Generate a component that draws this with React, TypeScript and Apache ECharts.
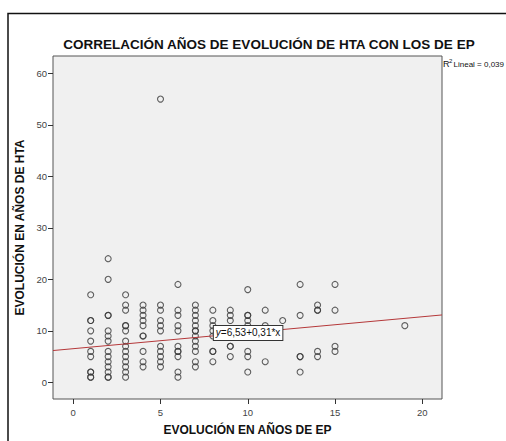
import React, { useEffect, useRef } from 'react';
import * as echarts from 'echarts';

// Años de evolución de EP (x) y de HTA (y), one pair per patient
const epYears = [
  1, 1, 1, 1, 1, 1, 1, 1, 1, 1, 1,
  2, 2, 2, 2, 2, 2, 2, 2, 2, 2, 2, 2, 2, 2,
  3, 3, 3, 3, 3, 3, 3, 3, 3, 3, 3, 3, 3, 3,
  4, 4, 4, 4, 4, 4, 4, 4, 4, 4,
  5, 5, 5, 5, 5, 5, 5, 5, 5, 5, 5,
  6, 6, 6, 6, 6, 6, 6, 6, 6, 6, 6,
  7, 7, 7, 7, 7, 7, 7, 7, 7, 7, 7, 7, 7,
  8, 8, 8, 8, 8, 8, 8, 8,
  9, 9, 9, 9, 9, 9,
  10, 10, 10, 10, 10, 10, 10, 10,
  11, 11, 11,
  12,
  13, 13, 13, 13, 13,
  14, 14, 14, 14, 14,
  15, 15, 15, 15,
  19,
];
const htaYears = [
  17, 12, 12, 10, 8, 6, 5, 2, 2, 1, 1,
  24, 20, 13, 13, 10, 9, 8, 6, 5, 4, 3, 2, 1, 1,
  17, 15, 14, 11, 11, 10, 8, 7, 6, 5, 4, 3, 2, 1,
  15, 14, 13, 12, 11, 9, 9, 6, 4, 3,
  55, 15, 14, 12, 11, 10, 7, 6, 5, 4, 3,
  19, 14, 13, 11, 10, 7, 6, 6, 5, 2, 1,
  15, 14, 13, 12, 11, 10, 10, 9, 8, 7, 6, 4, 3,
  14, 12, 11, 10, 9, 6, 6, 4,
  14, 13, 12, 7, 7, 5,
  18, 13, 13, 12, 11, 6, 5, 2,
  14, 11, 4,
  12,
  19, 13, 5, 5, 2,
  15, 14, 14, 6, 5,
  19, 14, 7, 6,
  11,
];

const xTicks = [0, 5, 10, 15, 20];
const yTicks = [0, 10, 20, 30, 40, 50, 60];
const xMin = -1.16;
const xMax = 21.13;
const yMin = -3.24;
const yMax = 63.36;

// Stated fit: y = 6,53 + 0,31*x ; R² Lineal = 0,039
const fitIntercept = 6.53;
const fitSlope = 0.31;
const fitLabelX = 8;

const titleText = 'CORRELACIÓN AÑOS DE EVOLUCIÓN DE HTA CON LOS DE EP';
const xName = 'EVOLUCIÓN EN AÑOS DE EP';
const yName = 'EVOLUCIÓN EN AÑOS DE HTA';

const FONT = '"Liberation Sans", Arial, sans-serif';

export default function App() {
  const ref = useRef<HTMLDivElement>(null);

  useEffect(() => {
    if (!ref.current) return;
    const chart = echarts.init(ref.current, undefined, { renderer: 'svg' });
    const points = epYears.map((x, i) => [x, htaYears[i]]);
    const fitLine = [
      [xMin, fitIntercept + fitSlope * xMin],
      [xMax, fitIntercept + fitSlope * xMax],
    ];
    chart.setOption({
      animation: false,
      backgroundColor: '#ffffff',
      textStyle: { fontFamily: FONT },
      grid: {
        left: 53,
        top: 56,
        right: 64,
        bottom: 42,
        show: true,
        backgroundColor: '#f0f0f0',
        borderColor: '#555555',
        borderWidth: 1,
        outerBoundsMode: 'none',
      },
      graphic: [
        {
          type: 'rect',
          shape: { x: 8, y: 13.5, width: 1000, height: 1000 },
          style: { fill: 'none', stroke: '#111', lineWidth: 1.5 },
          z: -1,
          silent: true,
        },
        {
          type: 'text',
          x: 269,
          y: 44.5,
          style: {
            text: titleText,
            fontFamily: FONT,
            fontSize: 13.5,
            fontWeight: 'bold',
            fill: '#111',
            textAlign: 'center',
            textVerticalAlign: 'middle',
          },
        },
        {
          type: 'text',
          x: 443,
          y: 64,
          style: {
            text: 'R',
            fontFamily: FONT,
            fontSize: 9,
            fill: '#111',
            textAlign: 'left',
            textVerticalAlign: 'middle',
          },
        },
        {
          type: 'text',
          x: 449,
          y: 60.5,
          style: {
            text: '2',
            fontFamily: FONT,
            fontSize: 6,
            fill: '#111',
            textAlign: 'left',
            textVerticalAlign: 'middle',
          },
        },
        {
          type: 'text',
          x: 453.5,
          y: 64,
          style: {
            text: 'Lineal = 0,039',
            fontFamily: FONT,
            fontSize: 8,
            fill: '#111',
            textAlign: 'left',
            textVerticalAlign: 'middle',
          },
        },
      ],
      xAxis: {
        type: 'value',
        min: xMin,
        max: xMax,
        name: xName,
        nameLocation: 'middle',
        nameGap: 25,
        nameTextStyle: { fontFamily: FONT, fontSize: 12, fontWeight: 'bold', color: '#111' },
        axisLine: { show: false, onZero: false },
        axisTick: { show: true, length: 5, customValues: xTicks, lineStyle: { color: '#333' } },
        axisLabel: { customValues: xTicks, margin: 8, fontSize: 9.5, color: '#444', fontFamily: FONT },
        splitLine: { show: false },
      },
      yAxis: {
        type: 'value',
        min: yMin,
        max: yMax,
        name: yName,
        nameLocation: 'middle',
        nameRotate: 90,
        nameGap: 25,
        nameTextStyle: { fontFamily: FONT, fontSize: 12, fontWeight: 'bold', color: '#111' },
        axisLine: { show: false, onZero: false },
        axisTick: { show: true, length: 5, customValues: yTicks, lineStyle: { color: '#333' } },
        axisLabel: { customValues: yTicks, margin: 6, fontSize: 9.5, color: '#444', fontFamily: FONT },
        splitLine: { show: false },
      },
      series: [
        {
          type: 'scatter',
          data: points,
          symbol: 'circle',
          symbolSize: 6,
          itemStyle: { color: 'rgba(0,0,0,0)', borderColor: '#3a3a3a', borderWidth: 1.1 },
          z: 2,
        },
        {
          type: 'line',
          data: fitLine,
          showSymbol: false,
          symbol: 'none',
          lineStyle: { color: '#b5383a', width: 1 },
          z: 3,
          markPoint: {
            symbol: 'rect',
            symbolSize: 0,
            data: [{ coord: [fitLabelX, fitIntercept + fitSlope * fitLabelX] }],
            label: {
              show: true,
              position: 'right',
              distance: 1,
              offset: [0, -3],
              formatter: '{i|y}{n|=6,53+0,31*x}',
              backgroundColor: '#ffffff',
              borderColor: '#333',
              borderWidth: 1,
              padding: [2, 2, 2, 2],
              rich: {
                i: { fontFamily: FONT, fontSize: 10, fontStyle: 'italic', color: '#111' },
                n: { fontFamily: FONT, fontSize: 10, color: '#111' },
              },
            },
          },
        },
      ],
    });
    return () => chart.dispose();
  }, []);

  return (
    <div
      ref={ref}
      style={{ position: 'fixed', left: 0, top: 0, width: 506, height: 441 }}
    />
  );
}
